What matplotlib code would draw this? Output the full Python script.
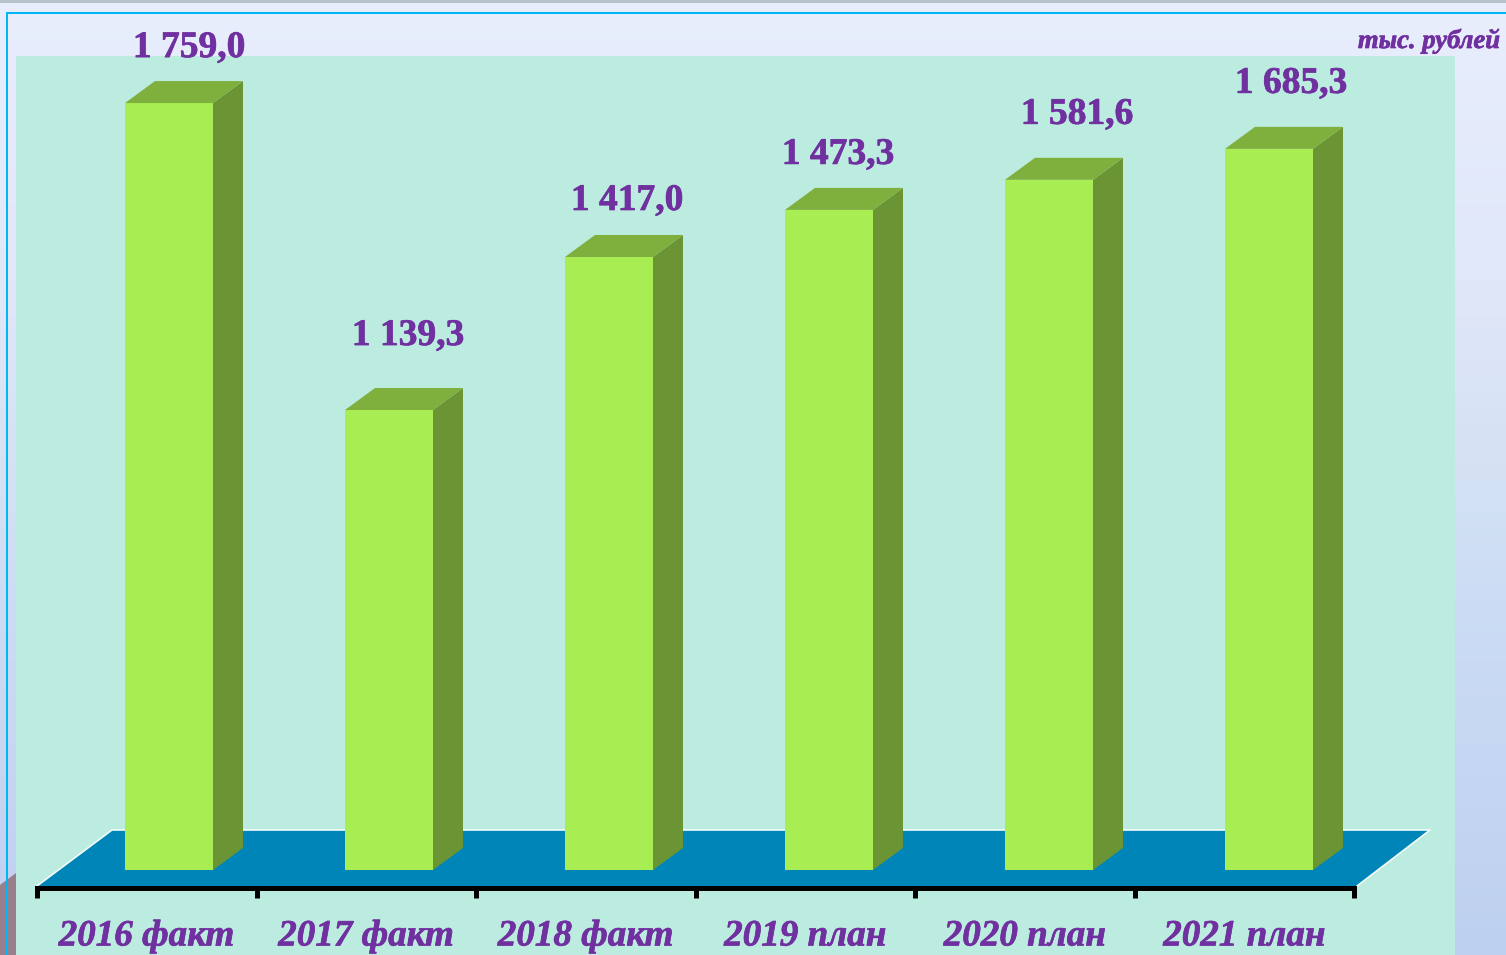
import numpy as np
import matplotlib
matplotlib.use('Agg')
import matplotlib.pyplot as plt
import matplotlib.patheffects as pe
from matplotlib.colors import LinearSegmentedColormap
from matplotlib.patches import Polygon, Rectangle

categories = ['2016 факт', '2017 факт', '2018 факт', '2019 план', '2020 план', '2021 план']
value_labels = ['1 759,0', '1 139,3', '1 417,0', '1 473,3', '1 581,6', '1 685,3']
# drawn heights, the bars do not quite follow their labels
heights = [1759, 1055, 1406, 1514, 1583, 1654]

# label offset from the bar's front top centre, in pixels
label_dx = [20, 19, 18, 9, 28, 22]
label_dy = [46, 65, 47, 46, 56, 56]

W, H = 1506, 955
PX_PER_X = 220
PX_PER_Y = 0.436
BASE_PX = 870
FIRST_PX = 169
BAR_W = 88 / PX_PER_X
DEPTH_X = 30 / PX_PER_X
DEPTH_Y = 22 / PX_PER_Y
PURPLE = '#7030A0'
SERIF = 'Liberation Serif'
THICK = [pe.withStroke(linewidth=0.5, foreground=PURPLE)]


def main():
    fig = plt.figure(figsize=(W / 100, H / 100), dpi=100)

    # backdrop, in plain pixels
    bg = fig.add_axes([0, 0, 1, 1])
    bg.set_xlim(0, W)
    bg.set_ylim(H, 0)
    bg.axis('off')
    cmap = LinearSegmentedColormap.from_list(
        'bg', [(0, '#E8EEFC'), (0.3, '#E0E7F9'), (0.52, '#D2E1F3'), (0.63, '#CCDCF5'), (1, '#BDD0EF')])
    grad = np.linspace(0, 1, 256)[:, None]
    bg.imshow(grad, cmap=cmap, extent=(0, W, H, 0), aspect='auto', zorder=0)
    bg.add_patch(Rectangle((0, 0), W, 3, color='#B6C3CA', lw=0, zorder=1))
    bg.add_patch(Polygon([(0, 885), (16, 873), (16, H), (0, H)], closed=True, color='#97808C', lw=0, zorder=1))
    bg.add_patch(Rectangle((16, 56), 1439, H - 56, color='#BCEBE0', lw=0, zorder=2))
    bg.plot([7, W], [13, 13], color='#00B6F4', lw=1.44, zorder=3)
    bg.plot([7, 7], [13, H], color='#00B6F4', lw=1.44, zorder=3)
    bg.add_patch(Polygon([(37, 886), (1357, 886), (1430, 830), (112, 830)], closed=True,
                         facecolor='#0085B8', edgecolor='none', zorder=4))
    bg.plot([37, 112, 1430, 1357], [886, 830, 830, 886], color='#F2FBFA', lw=1.2, zorder=4)

    # chart axes laid over the whole figure
    ax = fig.add_axes([0, 0, 1, 1], facecolor='none')
    ax.set_xlim(-FIRST_PX / PX_PER_X, (W - FIRST_PX) / PX_PER_X)
    ax.set_ylim(-(H - BASE_PX) / PX_PER_Y, BASE_PX / PX_PER_Y)

    x = np.arange(len(categories))
    bars = ax.bar(x, heights, BAR_W, color='#A8EE52', edgecolor='none', zorder=3)

    for i, bar in enumerate(bars):
        x0 = bar.get_x()
        x1 = x0 + bar.get_width()
        top = bar.get_height()
        ax.add_patch(Polygon([(x1, 0), (x1 + DEPTH_X, DEPTH_Y), (x1 + DEPTH_X, top + DEPTH_Y), (x1, top)],
                             closed=True, facecolor='#6B9534', edgecolor='none', zorder=3))
        ax.add_patch(Polygon([(x0, top), (x1, top), (x1 + DEPTH_X, top + DEPTH_Y), (x0 + DEPTH_X, top + DEPTH_Y)],
                             closed=True, facecolor='#7FAF3D', edgecolor='none', zorder=3))
        ax.annotate(value_labels[i], (x[i], top), xytext=(label_dx[i] * 0.72, label_dy[i] * 0.72),
                    textcoords='offset points', ha='center', va='baseline', color=PURPLE,
                    fontsize=27, fontweight='bold', family=SERIF, path_effects=THICK)

    # axis line and category labels
    edges = -0.6 + np.arange(7) * 0.998
    for side in ['top', 'left', 'right']:
        ax.spines[side].set_visible(False)
    ax.spines['bottom'].set_position(('data', -17.5 / PX_PER_Y))
    ax.spines['bottom'].set_bounds(edges[0], edges[-1])
    ax.spines['bottom'].set_linewidth(3.6)
    ax.spines['bottom'].set_color('black')
    ax.set_yticks([])
    ax.set_xticks(edges, labels=[])
    ax.tick_params(axis='x', which='major', length=7, width=3.6, color='black')
    ax.set_xticks((edges[:-1] + edges[1:]) / 2, labels=categories, minor=True)
    ax.tick_params(axis='x', which='minor', length=0, pad=22.3, labelcolor=PURPLE)
    for label in ax.get_xticklabels(minor=True):
        label.set_fontfamily(SERIF)
        label.set_fontsize(26.7)
        label.set_fontweight('bold')
        label.set_fontstyle('italic')
        label.set_path_effects(THICK)
    for spine in ax.spines.values():
        spine.set_zorder(5)

    bg.text(1500, 48, 'тыс. рублей', ha='right', va='baseline', color=PURPLE, fontsize=19.2,
            fontweight='bold', fontstyle='italic', family=SERIF, zorder=6, path_effects=THICK)

    fig.savefig('out.png', dpi=100)


if __name__ == '__main__':
    main()
